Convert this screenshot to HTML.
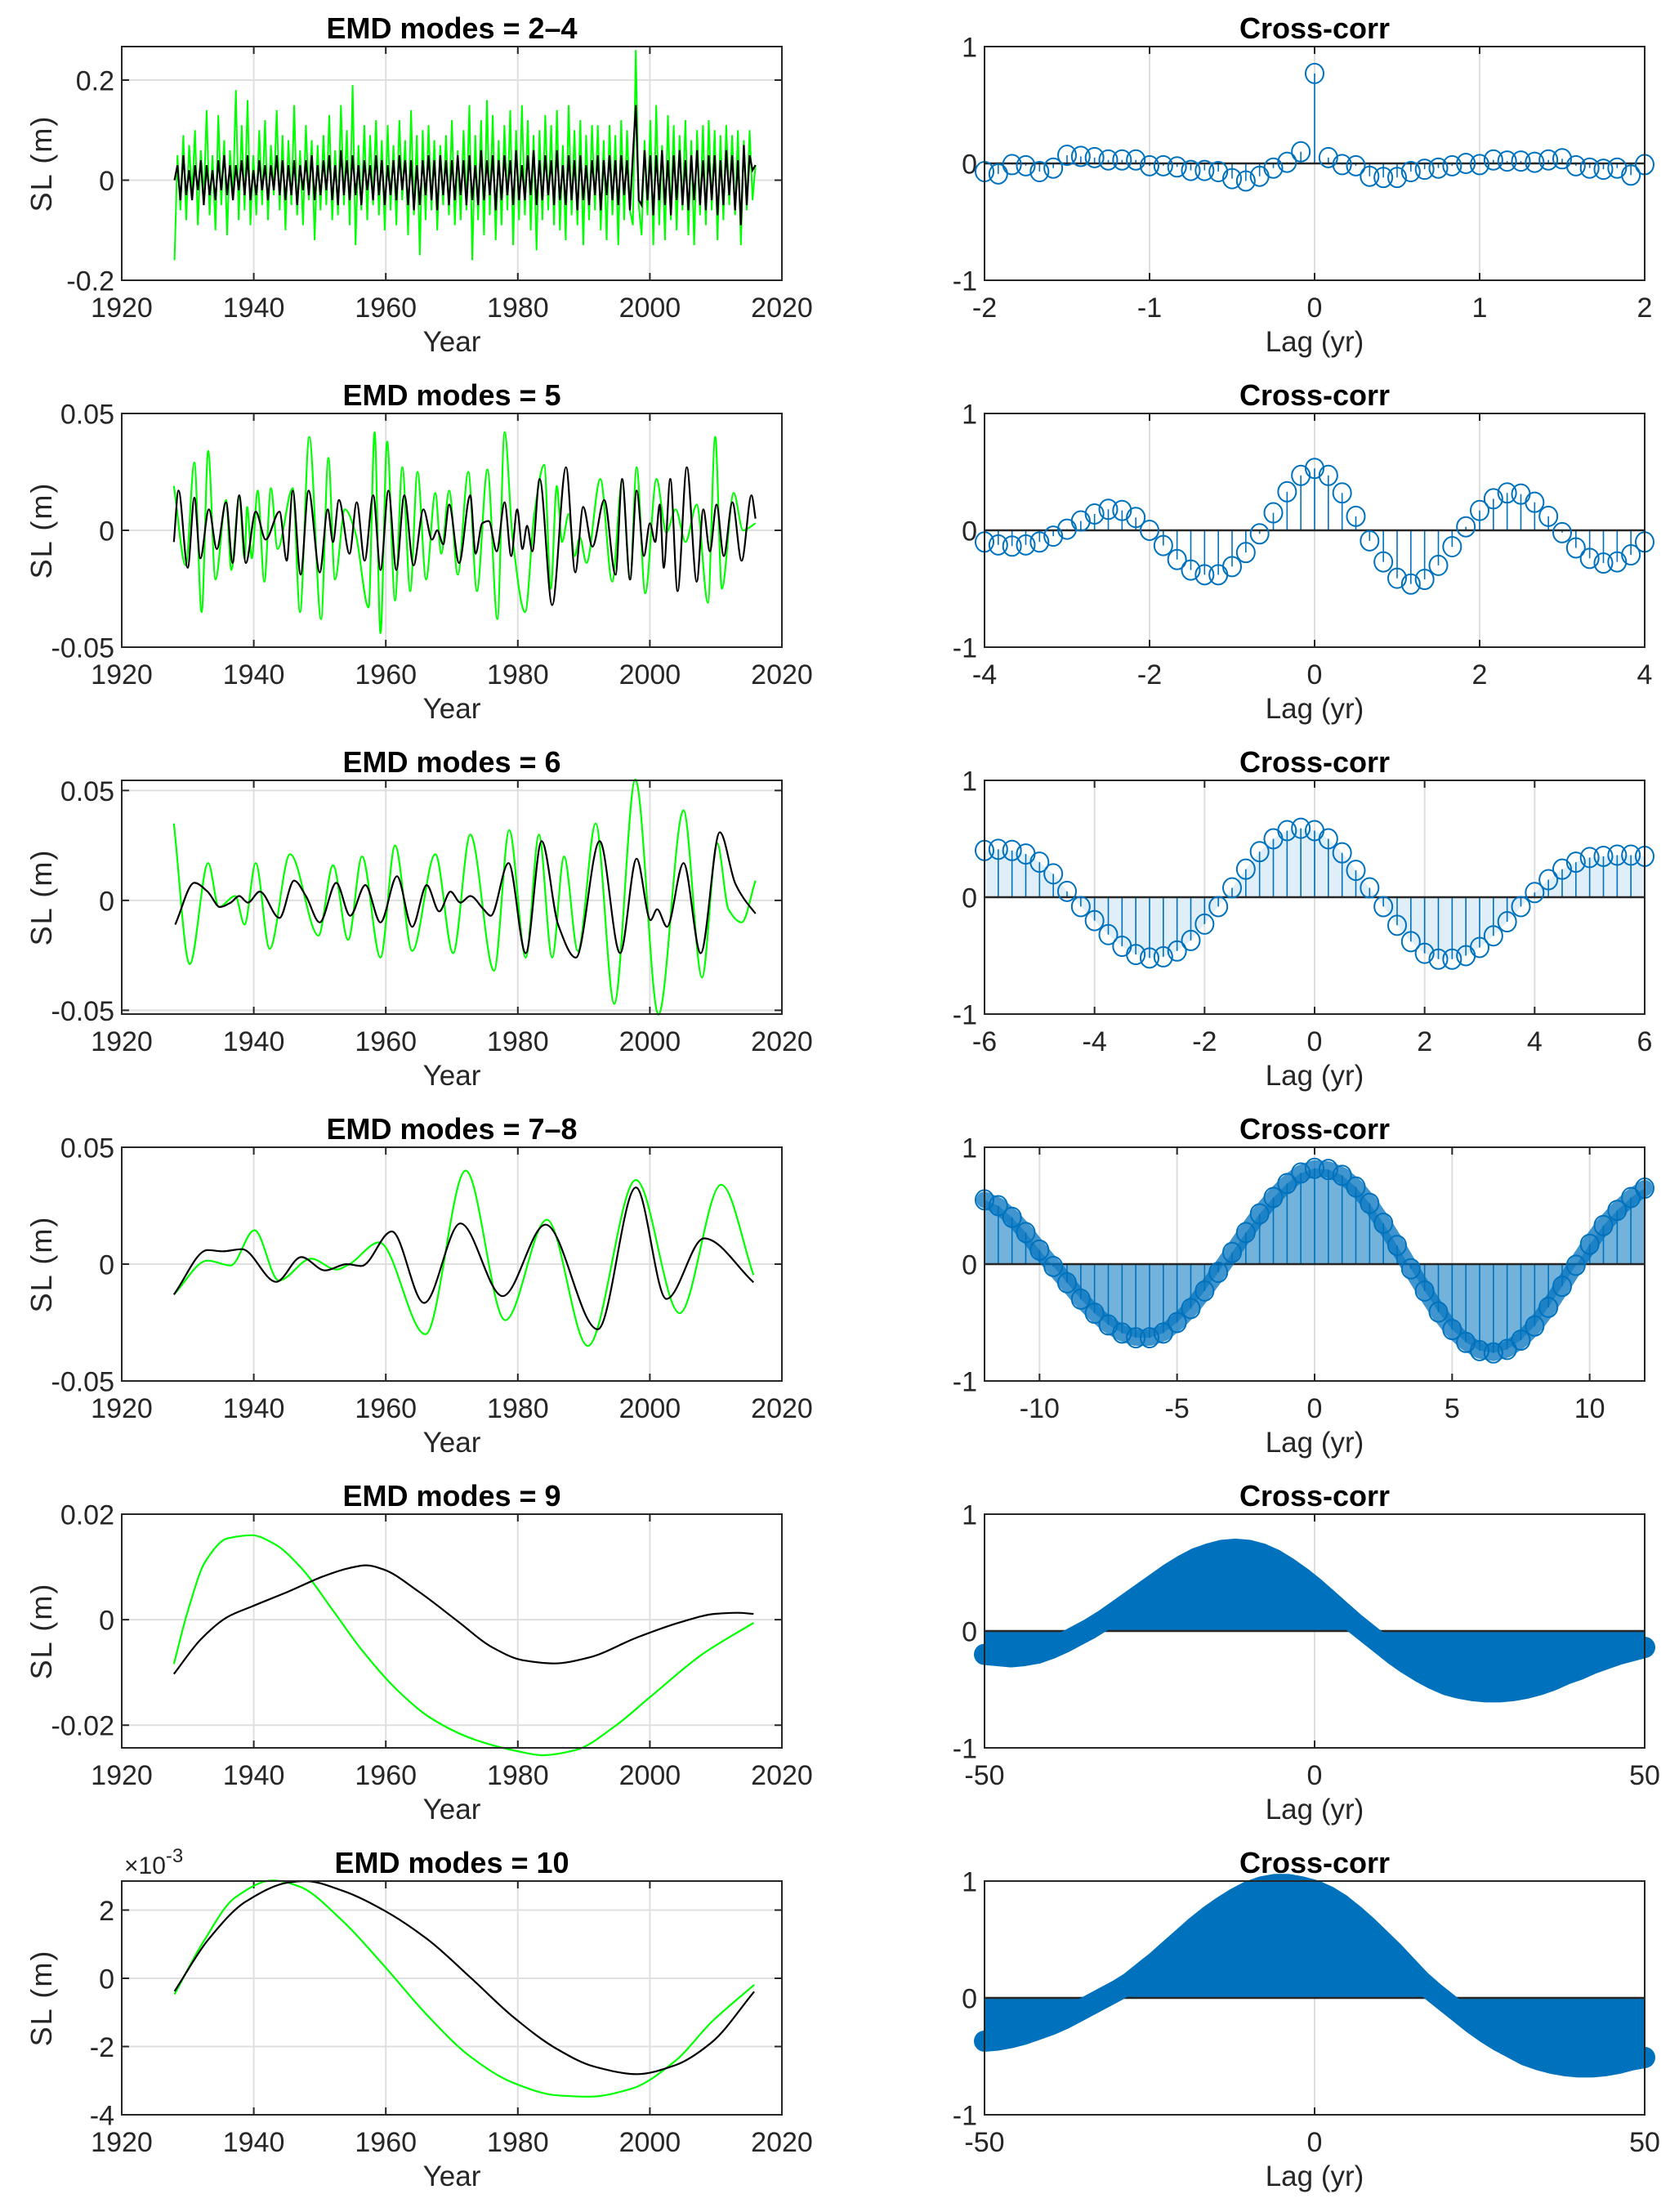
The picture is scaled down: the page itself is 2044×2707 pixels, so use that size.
<!DOCTYPE html>
<html><head><meta charset="utf-8"><style>
html,body{margin:0;padding:0;background:#fff;}
svg{display:block;}
text{font-family:"Liberation Sans",Arial,sans-serif;}
</style></head><body>
<svg id="fig" xmlns="http://www.w3.org/2000/svg" width="2044" height="2707" viewBox="0 0 2044 2707"></svg>
<script>
// ---------- DATA ----------
const r1Years = [1928, 2016];
const r1Green = [-.16,.05,-.06,.09,-.08,.07,-.03,.10,-.09,.06,-.04,.14,-.07,.05,-.10,.13,-.05,.08,-.11,.06,
-.04,.18,-.08,.11,-.06,.16,-.09,.05,-.07,.10,-.05,.12,-.08,.07,-.03,.14,-.06,.09,-.10,.08,
-.05,.15,-.07,.06,-.09,.11,-.04,.08,-.12,.07,-.06,.09,-.05,.13,-.08,.06,-.07,.15,-.05,.10,
-.09,.19,-.13,.07,-.06,.11,-.08,.09,-.05,.12,-.07,.08,-.10,.11,-.06,.07,-.09,.12,-.04,.08,
-.11,.14,-.07,.09,-.15,.10,-.08,.11,-.06,.08,-.10,.07,-.05,.09,-.07,.12,-.09,.06,-.08,.10,
-.06,.15,-.16,.09,-.08,.12,-.11,.16,-.07,.13,-.12,.08,-.09,.11,-.06,.14,-.13,.10,-.08,.15,
-.07,.12,-.10,.09,-.14,.10,-.08,.13,-.06,.11,-.09,.14,-.10,.07,-.12,.15,-.07,.10,-.09,.12,
-.13,.09,-.08,.11,-.06,.11,-.10,.08,-.12,.11,-.07,.09,-.13,.12,-.08,.10,-.06,-.09,.26,-.05,
-.11,.08,-.07,.12,-.13,.15,-.09,.07,-.12,.13,-.08,.11,-.10,.09,-.06,.12,-.11,.08,-.13,.10,
-.07,.11,-.09,.12,-.06,.10,-.12,.09,-.08,.11,-.05,.09,-.07,.10,-.13,.08,-.06,.10,-.04,.03];
const r1Black = [.00,.03,-.04,.05,-.03,.02,-.04,.03,-.02,.04,-.05,.03,-.03,.02,-.04,.04,-.02,.05,-.03,.03,
-.04,.03,-.02,.04,-.03,.05,-.04,.02,-.03,.04,-.02,.03,-.04,.03,-.02,.05,-.03,.04,-.04,.03,
-.03,.04,-.05,.03,-.02,.04,-.03,.05,-.04,.03,-.03,.04,-.02,.05,-.04,.03,-.05,.06,-.03,.04,
-.04,.05,-.03,.03,-.05,.04,-.02,.03,-.04,.05,-.03,.04,-.05,.03,-.03,.04,-.04,.05,-.02,.04,
-.05,.04,-.06,.03,-.05,.04,-.03,.05,-.04,.04,-.06,.05,-.03,.04,-.05,.04,-.04,.05,-.03,.04,
-.05,.05,-.04,.03,-.05,.06,-.04,.04,-.03,.05,-.06,.04,-.04,.05,-.03,.04,-.05,.06,-.04,.03,
-.04,.05,-.03,.06,-.05,.04,-.04,.05,-.03,.04,-.05,.06,-.04,.03,-.05,.05,-.04,.04,-.06,.05,
-.04,.03,-.05,.04,-.03,.05,-.06,.04,-.03,.05,-.04,.04,-.05,.05,-.03,.04,-.06,.05,.15,-.04,
-.05,.06,-.04,.05,-.07,.05,-.04,.06,-.05,.04,-.07,.05,-.04,.06,-.05,.04,-.06,.05,-.04,.06,
-.05,.04,-.06,.05,-.04,.05,-.07,.04,-.05,.06,-.03,.05,-.06,.04,-.09,.07,-.05,.05,.02,.03];

const r2GreenYr = [1927.9,1929.7,1931.0,1932.1,1933.1,1934.2,1935.8,1936.6,1937.8,1938.6,1939.0,1939.7,1940.6,1941.6,1942.6,1943.6,1945.9,1947.0,1948.4,1950.2,1951.3,1952.3,1953.8,1955.4,1957.4,1958.3,1959.2,1960.2,1961.4,1962.5,1963.7,1964.8,1966.1,1967.5,1968.4,1969.6,1970.9,1972.5,1973.8,1975.4,1976.9,1978.0,1979.2,1981.1,1982.5,1984.0,1985.0,1985.9,1986.7,1987.7,1988.6,1989.4,1990.4,1992.5,1994.3,1995.8,1997.0,1998.0,1999.3,2001.0,2002.5,2003.9,2005.4,2007.1,2008.8,2009.9,2010.9,2012.7,2014.1,2016.0];
const r2GreenVal = [0.019,-0.015,0.029,-0.035,0.034,-0.021,0.013,-0.017,0.015,-0.012,0.010,-0.012,0.017,-0.022,0.018,-0.008,0.018,-0.035,0.040,-0.038,0.031,-0.021,0.009,-0.001,-0.033,0.042,-0.044,0.038,-0.030,0.027,-0.026,0.025,-0.021,0.016,-0.010,0.017,-0.019,0.025,-0.026,0.026,-0.038,0.042,-0.003,-0.035,0.007,0.028,-0.025,0.019,-0.005,0.007,-0.011,-0.003,-0.014,0.022,-0.022,0.021,-0.021,0.027,-0.027,0.022,-0.001,0.009,-0.005,0.011,-0.031,0.040,-0.025,0.016,0.000,0.003];
const r2BlackYr = [1927.9,1928.6,1930.0,1931.0,1931.9,1933.2,1934.4,1935.8,1936.8,1937.8,1938.8,1940.3,1941.8,1943.9,1945.0,1945.9,1947.1,1948.3,1950.0,1951.2,1952.0,1952.9,1954.5,1955.6,1956.8,1958.1,1959.2,1960.4,1961.6,1962.8,1964.2,1965.7,1967.0,1967.8,1968.7,1969.6,1971.1,1972.8,1973.6,1974.6,1975.6,1976.8,1978.0,1979.0,1979.9,1980.7,1981.4,1982.2,1983.3,1985.2,1987.3,1988.7,1989.9,1991.3,1993.1,1994.8,1995.8,1997.0,1998.0,1999.1,2000.0,2000.8,2001.5,2002.1,2003.1,2004.2,2005.6,2007.1,2008.1,2009.1,2010.1,2011.2,2012.5,2013.9,2015.4,2016.0];
const r2BlackVal = [-0.005,0.017,-0.016,0.014,-0.012,0.009,-0.008,0.012,-0.014,0.015,-0.014,0.008,-0.004,0.008,-0.013,0.017,-0.019,0.017,-0.018,0.009,-0.005,0.013,-0.010,0.012,-0.013,0.015,-0.017,0.017,-0.017,0.015,-0.015,0.009,-0.004,0.000,-0.006,0.011,-0.014,0.015,-0.010,0.003,0.004,-0.009,0.012,-0.011,0.009,-0.008,0.002,-0.009,0.022,-0.032,0.027,-0.018,0.010,-0.007,0.013,-0.019,0.022,-0.021,0.017,-0.011,0.003,-0.005,0.011,-0.016,0.022,-0.026,0.027,-0.022,0.009,-0.009,0.011,-0.011,0.012,-0.013,0.015,0.005];

const r3GreenYr = [1927.9,1930.3,1933.1,1934.7,1937.2,1938.6,1940.3,1942.4,1945.5,1949.8,1952.0,1954.3,1956.4,1959.2,1961.4,1964.0,1967.5,1970.2,1972.8,1976.4,1978.7,1981.2,1983.2,1985.2,1987.0,1989.1,1991.8,1994.6,1997.8,2001.3,2005.1,2007.9,2010.2,2011.9,2013.9,2016.0];
const r3GreenVal = [0.035,-0.029,0.017,-0.003,0.002,-0.011,0.017,-0.022,0.021,-0.016,0.016,-0.018,0.020,-0.026,0.025,-0.023,0.021,-0.024,0.030,-0.032,0.032,-0.026,0.030,-0.026,0.020,-0.023,0.035,-0.047,0.055,-0.052,0.041,-0.035,0.026,-0.004,-0.010,0.009];
const r3BlackYr = [1928.1,1931.0,1933.0,1934.9,1936.5,1937.8,1939.1,1940.9,1943.9,1946.1,1947.9,1950.0,1952.5,1954.6,1956.9,1959.2,1961.7,1964.0,1966.2,1968.1,1969.8,1971.3,1972.8,1974.8,1975.9,1978.6,1981.2,1983.6,1986.1,1988.8,1992.4,1995.5,1998.0,2000.1,2001.1,2002.6,2005.1,2007.7,2010.6,2012.9,2014.2,2016.0];
const r3BlackVal = [-0.011,0.008,0.004,-0.003,-0.001,0.002,-0.001,0.004,-0.008,0.009,0.002,-0.010,0.008,-0.007,0.007,-0.010,0.011,-0.012,0.007,-0.005,0.004,-0.001,0.002,-0.004,-0.007,0.017,-0.024,0.027,-0.011,-0.026,0.027,-0.024,0.019,-0.009,-0.004,-0.012,0.017,-0.024,0.031,0.008,0.001,-0.006];

const r4GreenYr = [1927.9,1933.0,1936.5,1940.1,1943.8,1948.7,1952.5,1954.5,1959.0,1966.0,1972.1,1978.1,1984.4,1990.6,1997.9,2004.5,2010.8,2015.7];
const r4GreenVal = [-0.013,0.0015,-0.0006,0.0145,-0.007,0.0023,-0.0023,0.000,0.0093,-0.030,0.040,-0.024,0.019,-0.035,0.036,-0.021,0.034,-0.0047];
const r4BlackYr = [1927.9,1933.0,1935.3,1938.2,1943.4,1947.2,1950.8,1954.1,1956.3,1960.9,1965.8,1971.3,1977.7,1984.2,1992.1,1997.9,2002.5,2008.2,2015.7];
const r4BlackVal = [-0.013,0.006,0.0055,0.0064,-0.0076,0.003,-0.0027,0.000,-0.0008,0.014,-0.0166,0.0174,-0.0137,0.0169,-0.0279,0.0328,-0.0149,0.011,-0.0078];

const r5GreenYr = [1927.9,1930.0,1932.7,1936.0,1939.7,1943.2,1947.2,1951.8,1956.4,1961.7,1967.0,1973.6,1980.2,1983.8,1988.8,1994.7,2000.0,2007.9,2015.7];
const r5GreenVal = [-0.0084,0.0016,0.0111,0.0154,0.0160,0.0143,0.0098,0.0021,-0.0058,-0.0133,-0.0188,-0.0228,-0.0250,-0.0257,-0.0247,-0.0202,-0.0147,-0.0066,-0.0006];
const r5BlackYr = [1927.9,1932.0,1936.0,1939.7,1945.2,1950.5,1954.5,1957.0,1959.7,1965.0,1970.9,1976.2,1980.8,1985.5,1990.7,1998.0,2004.6,2009.9,2013.2,2015.7];
const r5BlackVal = [-0.0103,-0.0037,0.0005,0.0025,0.0053,0.0082,0.0098,0.0103,0.0095,0.0053,-0.0003,-0.0053,-0.0077,-0.0083,-0.0072,-0.0034,-0.0005,0.0011,0.0013,0.0011];

const r6GreenYr = [1928.0,1932.3,1937.2,1942.9,1946.9,1953.4,1959.9,1966.4,1972.9,1979.4,1985.9,1990.8,1997.3,2003.8,2009.4,2015.8];
const r6GreenMilli = [-0.47,1.05,2.37,2.87,2.69,1.69,0.33,-1.11,-2.31,-3.07,-3.43,-3.47,-3.23,-2.43,-1.27,-0.19];
const r6BlackYr = [1928.0,1933.1,1938.8,1945.3,1947.8,1953.4,1959.9,1966.4,1972.9,1979.4,1985.9,1991.6,1998.1,2003.8,2009.4,2015.8];
const r6BlackMilli = [-0.38,1.13,2.25,2.81,2.85,2.57,1.97,1.13,0.01,-1.15,-2.07,-2.59,-2.81,-2.55,-1.87,-0.39];

const cc1Lag = [-2, 1/12];
const cc1Val = [-0.07,-0.09,-0.01,-0.02,-0.07,-0.04,0.07,0.06,0.05,0.03,0.03,0.03,-0.02,-0.02,-0.03,-0.06,-0.06,-0.07,-0.13,-0.15,-0.11,-0.04,0.01,0.10,0.77,0.05,-0.01,-0.02,-0.11,-0.12,-0.12,-0.07,-0.05,-0.04,-0.02,0.00,-0.01,0.03,0.02,0.02,0.01,0.03,0.04,-0.02,-0.04,-0.05,-0.04,-0.10,-0.01];
const cc2Lag = [-4, 1/6];
const cc2Val = [-0.10,-0.125,-0.135,-0.125,-0.10,-0.05,0.01,0.08,0.14,0.18,0.17,0.11,0.00,-0.13,-0.25,-0.34,-0.38,-0.38,-0.31,-0.19,-0.03,0.15,0.33,0.47,0.53,0.47,0.32,0.12,-0.09,-0.27,-0.41,-0.46,-0.42,-0.30,-0.14,0.03,0.17,0.27,0.32,0.31,0.24,0.12,-0.02,-0.15,-0.24,-0.28,-0.27,-0.21,-0.10];
const cc3Lag = [-6, 0.25];
const cc3Val = [0.40,0.41,0.40,0.37,0.30,0.20,0.05,-0.08,-0.20,-0.32,-0.42,-0.49,-0.52,-0.51,-0.46,-0.37,-0.23,-0.08,0.08,0.24,0.39,0.50,0.57,0.59,0.57,0.50,0.38,0.23,0.08,-0.08,-0.24,-0.38,-0.48,-0.53,-0.53,-0.50,-0.43,-0.33,-0.21,-0.08,0.04,0.15,0.24,0.30,0.34,0.35,0.36,0.36,0.35];
const cc4Lag = [-12, 0.5];
const cc4Val = [0.55,0.50,0.40,0.27,0.12,-0.02,-0.16,-0.30,-0.42,-0.52,-0.59,-0.63,-0.63,-0.59,-0.50,-0.38,-0.23,-0.07,0.10,0.27,0.43,0.57,0.69,0.78,0.82,0.81,0.76,0.66,0.52,0.35,0.16,-0.04,-0.23,-0.41,-0.56,-0.67,-0.74,-0.76,-0.73,-0.65,-0.53,-0.37,-0.19,-0.01,0.17,0.33,0.46,0.57,0.65];
const cc5Lag = [-50, 2];
const cc5Val = [-0.20,-0.21,-0.22,-0.21,-0.19,-0.15,-0.10,-0.04,0.02,0.09,0.17,0.25,0.33,0.41,0.49,0.56,0.62,0.66,0.69,0.70,0.69,0.66,0.61,0.54,0.46,0.37,0.27,0.17,0.07,-0.02,-0.11,-0.20,-0.28,-0.35,-0.41,-0.46,-0.49,-0.51,-0.52,-0.52,-0.51,-0.49,-0.46,-0.42,-0.37,-0.33,-0.28,-0.24,-0.20,-0.17,-0.14];
const cc6Lag = [-50, 2];
const cc6Val = [-0.37,-0.36,-0.34,-0.31,-0.27,-0.23,-0.18,-0.12,-0.06,0.00,0.06,0.13,0.22,0.31,0.41,0.51,0.61,0.70,0.78,0.85,0.91,0.95,0.97,0.97,0.95,0.92,0.87,0.80,0.71,0.61,0.50,0.39,0.27,0.15,0.05,-0.04,-0.13,-0.22,-0.30,-0.37,-0.43,-0.49,-0.53,-0.56,-0.58,-0.59,-0.59,-0.58,-0.56,-0.53,-0.51];

const yearTicks = [1920,1940,1960,1980,2000,2020];
const leftYTicks = [[-0.2,0,0.2],[-0.05,0,0.05],[-0.05,0,0.05],[-0.05,0,0.05],[-0.02,0,0.02],[-4,-2,0,2]];
const leftYTickLabels = [["-0.2","0","0.2"],["-0.05","0","0.05"],["-0.05","0","0.05"],["-0.05","0","0.05"],["-0.02","0","0.02"],["-4","-2","0","2"]];
const leftYLims = [[-0.2,0.267],[-0.05,0.05],[-0.0517,0.0546],[-0.05,0.05],[-0.0243,0.02],[-4,2.85]];
const titles = ["EMD modes = 2\u20134","EMD modes = 5","EMD modes = 6","EMD modes = 7\u20138","EMD modes = 9","EMD modes = 10"];
const lagLims = [[-2,2],[-4,4],[-6,6],[-12,12],[-50,50],[-50,50]];
const lagTicks = [[-2,-1,0,1,2],[-4,-2,0,2,4],[-6,-4,-2,0,2,4,6],[-10,-5,0,5,10],[-50,0,50],[-50,0,50]];
const ccYTicks = [-1,0,1];
const ccYTickLabels = ["-1","0","1"];

// ---------- RENDERING ----------
const NS = 'http://www.w3.org/2000/svg';
const svg = document.getElementById('fig');
function mk(tag, attrs, parent){
  const e = document.createElementNS(NS, tag);
  for (const k in attrs) e.setAttribute(k, attrs[k]);
  (parent || svg).appendChild(e);
  return e;
}
const LX0 = 149, RX0 = 1205, W = 808, H = 286, TOP0 = 57, ROWSTEP = 449;
const TXT = '#262626', GRID = '#dfdfdf', BLUE = '#0072BD';

function scale(d0, d1, p0, p1){ return v => p0 + (v - d0) / (d1 - d0) * (p1 - p0); }

function monoPath(xs, ys){
  const n = xs.length, m = [], t = [];
  for (let i = 0; i < n - 1; i++) m.push((ys[i+1]-ys[i]) / (xs[i+1]-xs[i]));
  t[0] = m[0]; t[n-1] = m[n-2];
  for (let i = 1; i < n - 1; i++) t[i] = (m[i-1]*m[i] <= 0) ? 0 : 2*m[i-1]*m[i]/(m[i-1]+m[i]);
  let d = 'M' + xs[0].toFixed(1) + ' ' + ys[0].toFixed(1);
  for (let i = 0; i < n - 1; i++){
    const dx = xs[i+1] - xs[i];
    d += ' C' + (xs[i]+dx/3).toFixed(1) + ' ' + (ys[i]+t[i]*dx/3).toFixed(1) + ' ' +
         (xs[i+1]-dx/3).toFixed(1) + ' ' + (ys[i+1]-t[i+1]*dx/3).toFixed(1) + ' ' +
         xs[i+1].toFixed(1) + ' ' + ys[i+1].toFixed(1);
  }
  return d;
}

function axes(g, x0, y0, xs, ys, xticks, xlabels, yticks, ylabels, hgrid, xlab, title, ylab, axName){
  const bottom = y0 + H, right = x0 + W;
  xticks.forEach((t, i) => {
    const x = xs(t);
    if (x > x0 + 1 && x < right - 1){
      const gl = mk('line', {x1:x, y1:y0, x2:x, y2:bottom, stroke:GRID, 'stroke-width':2}, g);
      
      
    }
  });
  if (hgrid) yticks.forEach(t => {
    const y = ys(t);
    if (y > y0 + 1 && y < bottom - 1){
      const gl = mk('line', {x1:x0, y1:y, x2:right, y2:y, stroke:GRID, 'stroke-width':2}, g);
      
      
    }
  });
  xticks.forEach((t, i) => {
    const x = xs(t);
    const tk = mk('path', {d:'M'+x+' '+bottom+'v-9M'+x+' '+y0+'v9', stroke:TXT, 'stroke-width':2}, g);
    
    
    const tl = mk('text', {x:x, y:bottom+45, 'font-size':34, fill:TXT, 'text-anchor':'middle'}, g);
    tl.textContent = xlabels[i];
    
    
  });
  yticks.forEach((t, i) => {
    const y = ys(t);
    const tk = mk('path', {d:'M'+x0+' '+y+'h9M'+right+' '+y+'h-9', stroke:TXT, 'stroke-width':2}, g);
    
    
    const tl = mk('text', {x:x0-9, y:y+12.5, 'font-size':34, fill:TXT, 'text-anchor':'end'}, g);
    tl.textContent = ylabels[i];
    
    
  });
  const tt = mk('text', {x:x0+W/2, y:y0-10, 'font-size':36, 'font-weight':'bold', fill:'#000', 'text-anchor':'middle'}, g);
  tt.textContent = title;
  
  
  const xl = mk('text', {x:x0+W/2, y:bottom+87, 'font-size':35, fill:TXT, 'text-anchor':'middle'}, g);
  xl.textContent = xlab;
  
  
  if (ylab){
    const cy = y0 + H/2;
    const yl = mk('text', {x:63, y:cy, 'font-size':36, fill:TXT, 'text-anchor':'middle', transform:'rotate(-90 63 '+cy+')', 'letter-spacing':'2'}, g);
    yl.textContent = ylab;
    
    
  }
}
function box(g, x0, y0, axName){
  const b = mk('rect', {x:x0, y:y0, width:W, height:H, fill:'none', stroke:TXT, 'stroke-width':2}, g);
  
  
}

const leftSeries = [
  null,
  [[r2GreenYr,r2GreenVal],[r2BlackYr,r2BlackVal]],
  [[r3GreenYr,r3GreenVal],[r3BlackYr,r3BlackVal]],
  [[r4GreenYr,r4GreenVal],[r4BlackYr,r4BlackVal]],
  [[r5GreenYr,r5GreenVal],[r5BlackYr,r5BlackVal]],
  [[r6GreenYr,r6GreenMilli],[r6BlackYr,r6BlackMilli]]
];
const ccLags = [cc1Lag,cc2Lag,cc3Lag,cc4Lag,cc5Lag,cc6Lag];
const ccVals = [cc1Val,cc2Val,cc3Val,cc4Val,cc5Val,cc6Val];
const ccDense = [0,0,1,2,3,3];

for (let r = 0; r < 6; r++){
  const y0 = TOP0 + r * ROWSTEP;
  const gL = mk('g', {});
  
  
  const xs = scale(1920, 2020, LX0, LX0 + W);
  const ys = scale(leftYLims[r][0], leftYLims[r][1], y0 + H, y0);
  axes(gL, LX0, y0, xs, ys, yearTicks, yearTicks.map(String), leftYTicks[r], leftYTickLabels[r], true, 'Year', titles[r], 'SL (m)', 'sea-level-panel-' + (r+1));
  if (r === 0){
    const n = r1Green.length, step = (r1Years[1]-r1Years[0])/(n-1);
    let dG = '', dB = '';
    for (let i = 0; i < n; i++){
      const x = xs(r1Years[0] + i*step).toFixed(1);
      dG += (i ? 'L' : 'M') + x + ' ' + ys(r1Green[i]).toFixed(1);
      dB += (i ? 'L' : 'M') + x + ' ' + ys(r1Black[i]).toFixed(1);
    }
    const pg = mk('path', {d:dG, fill:'none', stroke:'#00ff00', 'stroke-width':2}, gL);
    
    
    const pb = mk('path', {d:dB, fill:'none', stroke:'#000', 'stroke-width':2.2}, gL);
    
    
  } else {
    const cols = ['#00ff00', '#000'];
    leftSeries[r].forEach((s, k) => {
      const p = mk('path', {d:monoPath(s[0].map(xs), s[1].map(ys)), fill:'none', stroke:cols[k], 'stroke-width':2.2}, gL);
      
      
    });
  }
  box(gL, LX0, y0, 'sea-level-panel-' + (r+1));
  if (r === 5){
    const ex = mk('text', {x:152, y:2293, 'font-size':30, fill:TXT}, gL);
    ex.textContent = '\u00d710';
    
    
    const sup = mk('tspan', {dy:-14, 'font-size':24}, ex);
    sup.textContent = '-3';
    
    
  }

  const gR = mk('g', {});
  
  
  const lx = scale(lagLims[r][0], lagLims[r][1], RX0, RX0 + W);
  const ly = scale(-1, 1, y0 + H, y0);
  axes(gR, RX0, y0, lx, ly, lagTicks[r], lagTicks[r].map(String), ccYTicks, ccYTickLabels, false, 'Lag (yr)', 'Cross-corr', null, 'cross-corr-panel-' + (r+1));
  const vals = ccVals[r], L = ccLags[r], dense = ccDense[r];
  const px = vals.map((v, i) => lx(L[0] + i*L[1]));
  const py = vals.map(ly);
  const y0v = ly(0);
  if (dense > 0){
    let d = 'M' + px[0].toFixed(1) + ' ' + y0v;
    for (let i = 0; i < px.length; i++) d += 'L' + px[i].toFixed(1) + ' ' + py[i].toFixed(1);
    d += 'L' + px[px.length-1].toFixed(1) + ' ' + y0v + 'Z';
    const op = dense === 1 ? 0.12 : dense === 2 ? 0.55 : 1;
    const a = mk('path', {d:d, fill:BLUE, 'fill-opacity':op}, gR);
    
    
  }
  for (let i = 0; i < px.length; i++){
    const st = mk('line', {x1:px[i], y1:y0v, x2:px[i], y2:py[i], stroke:BLUE, 'stroke-width':1.6}, gR);
    
    
  }
  const zl = mk('line', {x1:RX0, y1:y0v, x2:RX0+W, y2:y0v, stroke:TXT, 'stroke-width':2.5}, gR);
  
  
  if (dense > 1){
    let d = '';
    for (let i = 0; i < px.length; i++) d += (i ? 'L' : 'M') + px[i].toFixed(1) + ' ' + py[i].toFixed(1);
    const bandOp = dense === 2 ? 0.75 : 1;
    const bw = dense === 3 ? 26 : 20;
    const band = mk('path', {d:d, fill:'none', stroke:BLUE, 'stroke-width':bw, 'stroke-opacity':bandOp, 'stroke-linecap':'round', 'stroke-linejoin':'round'}, gR);
    
    
  }
  if (dense < 3){
    for (let i = 0; i < px.length; i++){
      const c = mk('ellipse', {cx:px[i], cy:py[i], rx:11, ry:12, fill:'none', stroke:BLUE, 'stroke-width':2}, gR);
      
      
    }
  }
  box(gR, RX0, y0, 'cross-corr-panel-' + (r+1));
}
</script>
</body></html>
